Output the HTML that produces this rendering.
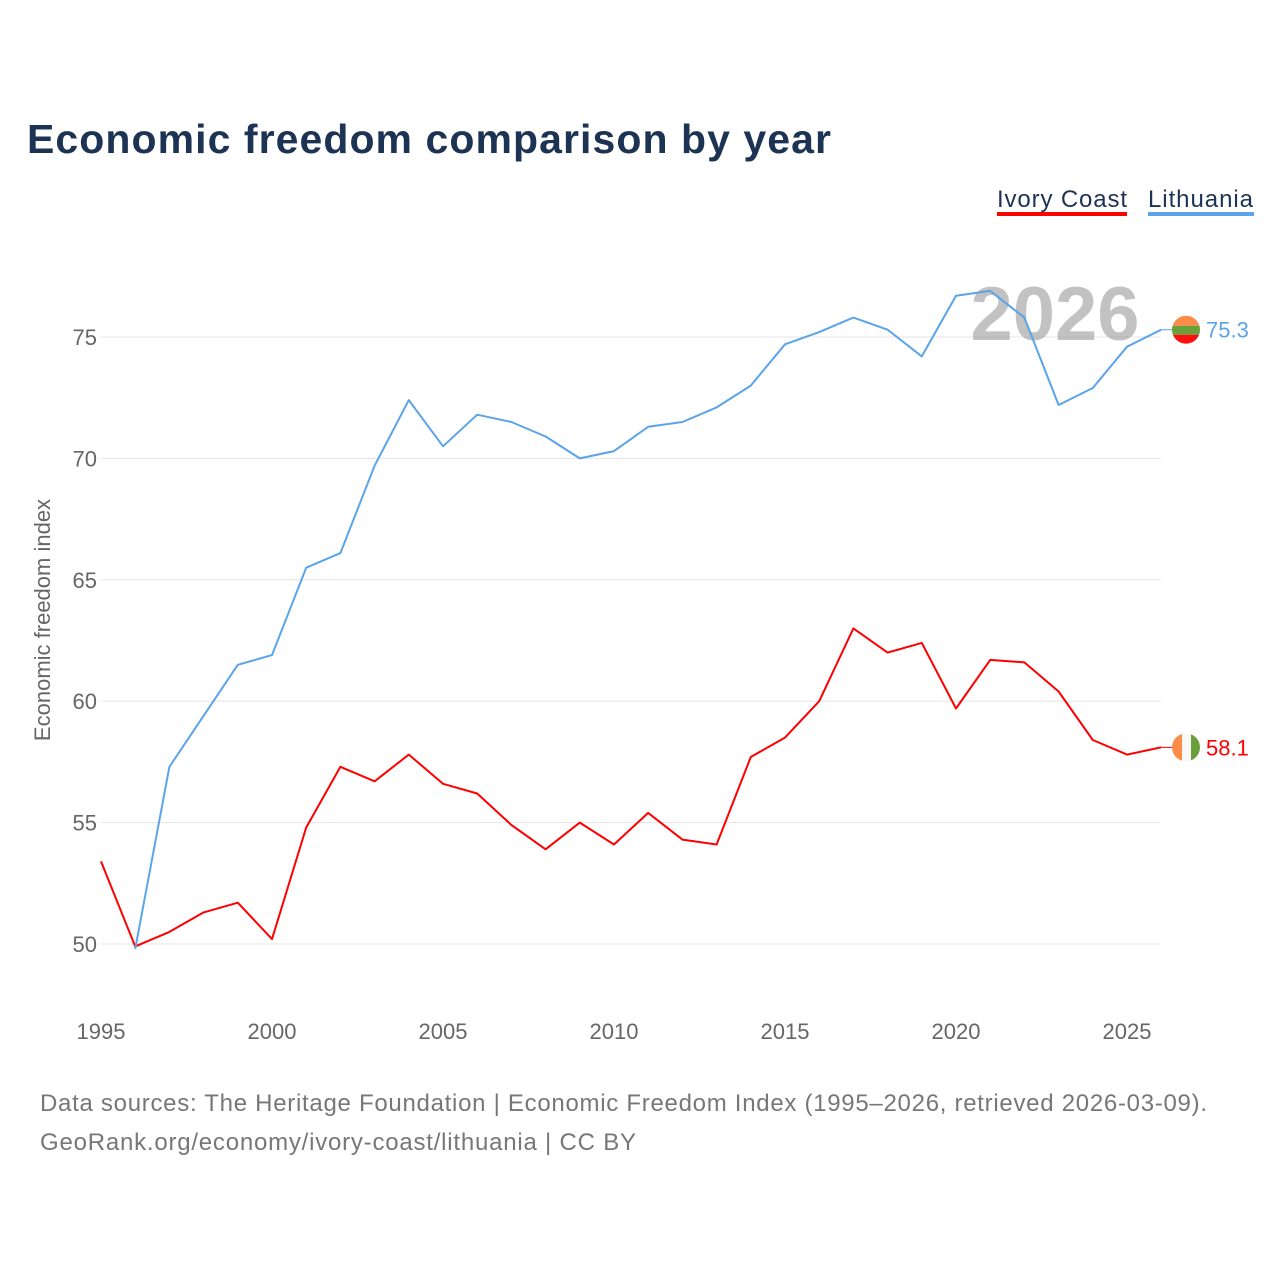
<!DOCTYPE html>
<html><head><meta charset="utf-8"><style>
body{margin:0;background:#fff;font-family:"Liberation Sans",sans-serif}
</style></head><body>
<svg width="1280" height="1280" xmlns="http://www.w3.org/2000/svg">
<text x="27" y="153" font-size="41" font-weight="bold" fill="#1d3354" font-family="Liberation Sans" textLength="804">Economic freedom comparison by year</text>
<g>
<text x="997" y="207" font-size="24" fill="#1d3354" textLength="130">Ivory Coast</text>
<rect x="997" y="212" width="130" height="4" fill="#ff0000"/>
<text x="1148" y="207" font-size="24" fill="#1d3354" textLength="105">Lithuania</text>
<rect x="1148" y="212" width="106" height="4" fill="#5ba4ea"/>
</g>
<g id="grid"></g>
<text x="1055" y="340" font-size="76" font-weight="bold" fill="#999" fill-opacity="0.6" text-anchor="middle">2026</text>
<g id="series"></g>
<text transform="translate(50,620) rotate(-90)" font-size="22" fill="#666" text-anchor="middle">Economic freedom index</text>
<text x="40" y="1111" font-size="24" fill="#777" textLength="1167">Data sources: The Heritage Foundation | Economic Freedom Index (1995–2026, retrieved 2026-03-09).</text>
<text x="40" y="1150" font-size="24" fill="#777" textLength="596">GeoRank.org/economy/ivory-coast/lithuania | CC BY</text>
</svg>
<script>
const years=[1995,1996,1997,1998,1999,2000,2001,2002,2003,2004,2005,2006,2007,2008,2009,2010,2011,2012,2013,2014,2015,2016,2017,2018,2019,2020,2021,2022,2023,2024,2025,2026];
const ivoryCoast=[53.4,49.9,50.5,51.3,51.7,50.2,54.8,57.3,56.7,57.8,56.6,56.2,54.9,53.9,55.0,54.1,55.4,54.3,54.1,57.7,58.5,60.0,63.0,62.0,62.4,59.7,61.7,61.6,60.4,58.4,57.8,58.1];
const lithuania=[null,49.8,57.3,59.4,61.5,61.9,65.5,66.1,69.7,72.4,70.5,71.8,71.5,70.9,70.0,70.3,71.3,71.5,72.1,73.0,74.7,75.2,75.8,75.3,74.2,76.7,76.9,75.8,72.2,72.9,74.6,75.3];
const yTicks=[50,55,60,65,70,75];
const xTicks=[1995,2000,2005,2010,2015,2020,2025];
const NS="http://www.w3.org/2000/svg";
const xs=y=>101+(y-1995)*(1127-101)/30;
const ys=v=>944-(v-50)*(944-337)/25;
function mk(tag,attrs,parent){const e=document.createElementNS(NS,tag);for(const k in attrs)e.setAttribute(k,attrs[k]);parent.appendChild(e);return e;}
const grid=document.getElementById('grid');
yTicks.forEach(t=>{
 const l=mk('line',{x1:101,x2:1161,y1:ys(t),y2:ys(t),stroke:'#e5e5e5','stroke-width':1},grid);
 
 
 const tx=mk('text',{x:97,y:ys(t)+8,'font-size':22,fill:'#666','text-anchor':'end'},grid);
 tx.textContent=t;
 
 
});
xTicks.forEach(t=>{
 const tx=mk('text',{x:xs(t),y:1039,'font-size':22,fill:'#666','text-anchor':'middle'},grid);
 tx.textContent=t;
 
 
});
const ser=document.getElementById('series');
function line(vals,color,name){
 let d='';vals.forEach((v,i)=>{if(v==null)return;d+=(d?'L':'M')+xs(years[i]).toFixed(1)+','+ys(v).toFixed(1);});
 const p=mk('path',{d:d,fill:'none',stroke:color,'stroke-width':2,'stroke-linejoin':'round'},ser);
 
 
 const lv=vals[vals.length-1],cx=1186,cy=ys(lv);
 const c=mk('line',{x1:xs(2026),x2:cx,y1:cy,y2:cy,stroke:color,'stroke-width':1},ser);
 
 
 const t=mk('text',{x:1206,y:cy+8,'font-size':22,fill:color},ser);
 t.textContent=lv.toFixed(1);
 
 
 return cy;
}
const cyI=line(ivoryCoast,'#ff0000','ivory-coast');
const cyL=line(lithuania,'#5ba4ea','lithuania');
const defs=mk('defs',{},ser);
const cp1=mk('clipPath',{id:'c1'},defs);mk('circle',{cx:1186,cy:cyL,r:14},cp1);
const cp2=mk('clipPath',{id:'c2'},defs);mk('circle',{cx:1186,cy:cyI,r:14},cp2);
const fl=mk('g',{'clip-path':'url(#c1)'},ser);


mk('rect',{x:1172,y:cyL-14,width:28,height:10,fill:'#fd8c48'},fl);
mk('rect',{x:1172,y:cyL-4,width:28,height:9,fill:'#6a9f3a'},fl);
mk('rect',{x:1172,y:cyL+5,width:28,height:10,fill:'#ff1010'},fl);
const fi=mk('g',{'clip-path':'url(#c2)'},ser);


mk('rect',{x:1172,y:cyI-14,width:10,height:28,fill:'#fd8c48'},fi);
mk('rect',{x:1182,y:cyI-14,width:9,height:28,fill:'#f8f8f8'},fi);
mk('rect',{x:1191,y:cyI-14,width:10,height:28,fill:'#6a9f3a'},fi);
</script>
</body></html>
